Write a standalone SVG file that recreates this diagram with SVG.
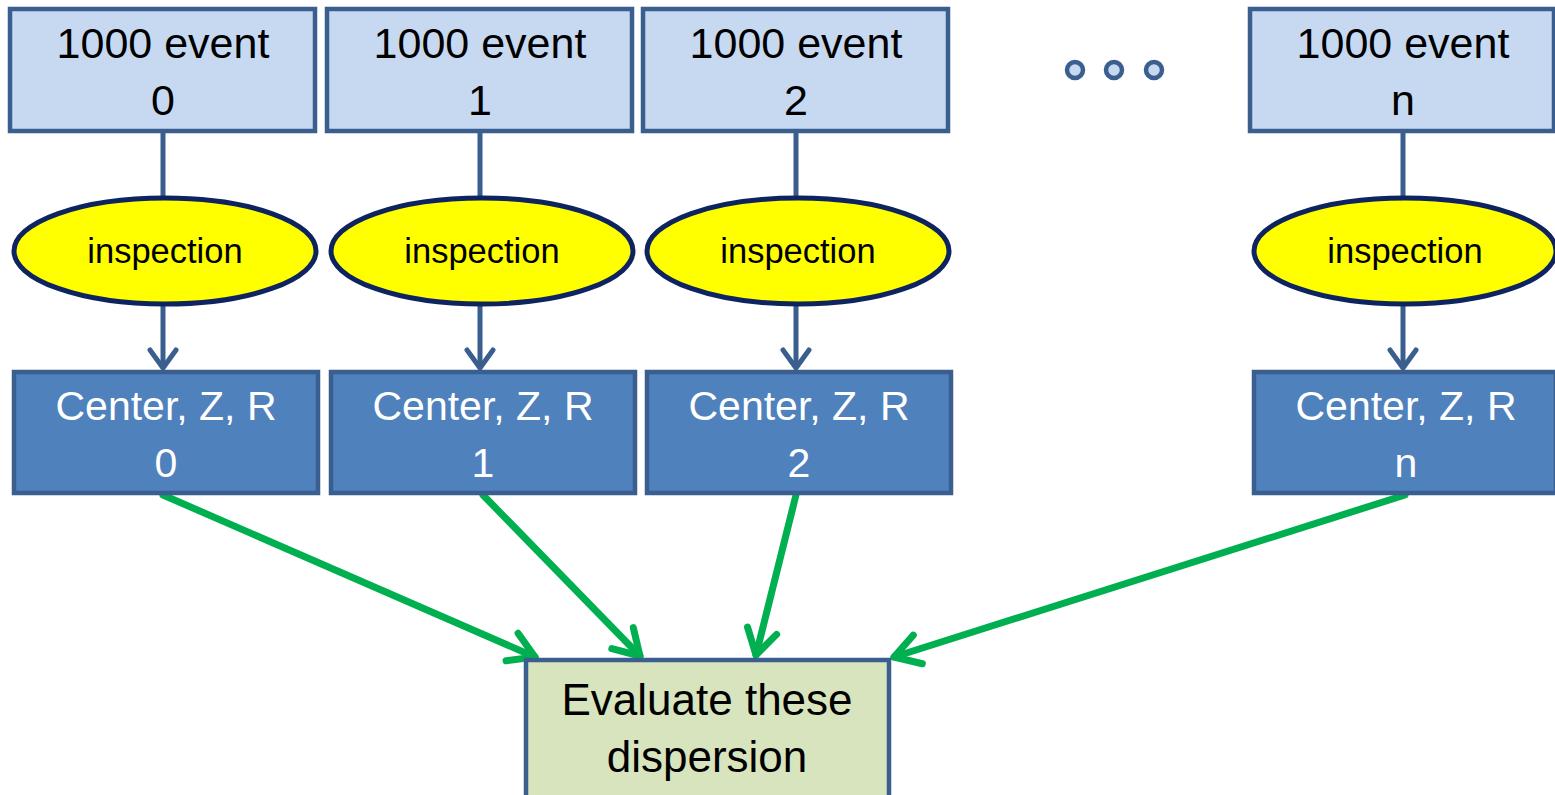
<svg xmlns="http://www.w3.org/2000/svg" width="1555" height="795" viewBox="0 0 1555 795">
<defs>
<style>
.ev{fill:#C6D9F1;stroke:#3A5F8E;stroke-width:4.5}
.ins{fill:#FFFF00;stroke:#0E2460;stroke-width:5}
.ctr{fill:#4F81BD;stroke:#3A5F8E;stroke-width:4.5}
.fin{fill:#D7E4BD;stroke:#3A5F8E;stroke-width:4.5}
.t{font-family:"Liberation Sans",Arial,sans-serif;text-anchor:middle}
.tb{font-size:43px;fill:#000}
.te{font-size:44px;fill:#000}
.tw{font-size:41px;fill:#fff}
.ti{font-size:34.5px;fill:#000}
.blue{stroke:#3A5F8E;stroke-width:5;fill:none}
.green{stroke:#00B050;stroke-width:7;fill:none;stroke-linecap:round}
.dot{fill:#C6D9F1;stroke:#3A5F8E;stroke-width:4.5}
</style>
<marker id="ab" markerUnits="userSpaceOnUse" markerWidth="40" markerHeight="40" viewBox="-24 -20 30 40" refX="0" refY="0" orient="auto">
<path d="M-18,-13 L0,0 L-18,13" fill="none" stroke="#3A5F8E" stroke-width="5" stroke-linecap="round" stroke-linejoin="round"/>
</marker>
<marker id="ag" markerUnits="userSpaceOnUse" markerWidth="44" markerHeight="44" viewBox="-30 -22 36 44" refX="0" refY="0" orient="auto">
<path d="M-25,-15 L0,0 L-25,15" fill="none" stroke="#00B050" stroke-width="7" stroke-linecap="round" stroke-linejoin="round"/>
</marker>
</defs>
<rect width="1555" height="795" fill="#fff"/>
<g id="connectors">
<path class="blue" d="M163,131 V197"/>
<path class="blue" d="M480,131 V197"/>
<path class="blue" d="M796,131 V197"/>
<path class="blue" d="M1403,131 V197"/>
<path class="blue" d="M163,305 V368" marker-end="url(#ab)"/>
<path class="blue" d="M480,305 V368" marker-end="url(#ab)"/>
<path class="blue" d="M796,305 V368" marker-end="url(#ab)"/>
<path class="blue" d="M1403,305 V368" marker-end="url(#ab)"/>
<path class="green" d="M163,495 L535,657" marker-end="url(#ag)"/>
<path class="green" d="M483,495 L640,656" marker-end="url(#ag)"/>
<path class="green" d="M796,495 L756,655" marker-end="url(#ag)"/>
<path class="green" d="M1405,495 L894,657" marker-end="url(#ag)"/>
</g>
<g id="event0"><rect class="ev" x="10" y="9" width="305" height="122"/><text class="t tb" x="163" y="58">1000 event</text><text class="t tb" x="163" y="115">0</text></g>
<g id="event1"><rect class="ev" x="327" y="9" width="305" height="122"/><text class="t tb" x="480" y="58">1000 event</text><text class="t tb" x="480" y="115">1</text></g>
<g id="event2"><rect class="ev" x="643" y="9" width="305" height="122"/><text class="t tb" x="796" y="58">1000 event</text><text class="t tb" x="796" y="115">2</text></g>
<g id="eventn"><rect class="ev" x="1250" y="9" width="304" height="122"/><text class="t tb" x="1403" y="58">1000 event</text><text class="t tb" x="1403" y="115">n</text></g>
<g id="ellipsis"><circle class="dot" cx="1075" cy="70" r="8"/><circle class="dot" cx="1114" cy="70" r="8"/><circle class="dot" cx="1154" cy="70" r="8"/></g>
<g id="insp0"><ellipse class="ins" cx="165" cy="251" rx="151" ry="53"/><text class="t ti" x="165" y="263">inspection</text></g>
<g id="insp1"><ellipse class="ins" cx="482" cy="251" rx="151" ry="53"/><text class="t ti" x="482" y="263">inspection</text></g>
<g id="insp2"><ellipse class="ins" cx="798" cy="251" rx="151" ry="53"/><text class="t ti" x="798" y="263">inspection</text></g>
<g id="inspn"><ellipse class="ins" cx="1405" cy="251" rx="151" ry="53"/><text class="t ti" x="1405" y="263">inspection</text></g>
<g id="center0"><rect class="ctr" x="14" y="372" width="304" height="121"/><text class="t tw" x="166" y="420">Center, Z, R</text><text class="t tw" x="166" y="477">0</text></g>
<g id="center1"><rect class="ctr" x="331" y="372" width="304" height="121"/><text class="t tw" x="483" y="420">Center, Z, R</text><text class="t tw" x="483" y="477">1</text></g>
<g id="center2"><rect class="ctr" x="647" y="372" width="304" height="121"/><text class="t tw" x="799" y="420">Center, Z, R</text><text class="t tw" x="799" y="477">2</text></g>
<g id="centern"><rect class="ctr" x="1254" y="372" width="302" height="121"/><text class="t tw" x="1406" y="420">Center, Z, R</text><text class="t tw" x="1406" y="477">n</text></g>
<g id="evaluate"><rect class="fin" x="526" y="660" width="363" height="140"/><text class="t te" x="707" y="715">Evaluate these</text><text class="t te" x="707" y="772">dispersion</text></g>
</svg>
